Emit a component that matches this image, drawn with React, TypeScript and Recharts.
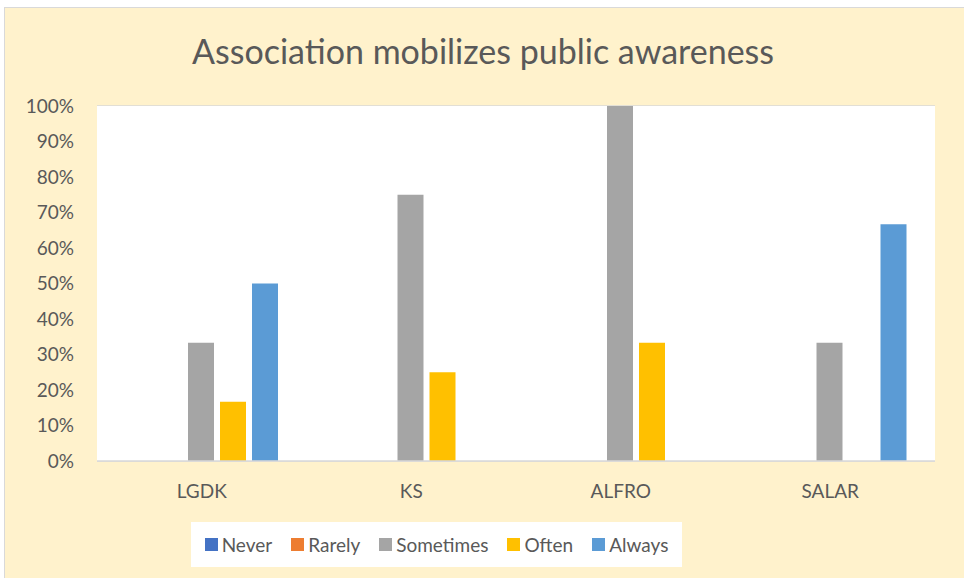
import { BarChart, Bar, XAxis, YAxis, CartesianGrid, Legend } from "recharts";

const categories = ["LGDK", "KS", "ALFRO", "SALAR"];
const never = [0, 0, 0, 0];
const rarely = [0, 0, 0, 0];
const sometimes = [33.33, 75, 100, 33.33];
const often = [16.67, 25, 33.33, 0];
const always = [50, 0, 0, 66.67];
const yTicks = [0, 10, 20, 30, 40, 50, 60, 70, 80, 90, 100];

const seriesNames = ["Never", "Rarely", "Sometimes", "Often", "Always"];
const seriesColors = ["#4472C4", "#ED7D31", "#A5A5A5", "#FFC000", "#5B9BD5"];

const data = categories.map((name, i) => ({
  name,
  Never: never[i],
  Rarely: rarely[i],
  Sometimes: sometimes[i],
  Often: often[i],
  Always: always[i],
}));

const FONT = "Lato, 'Noto Sans', sans-serif";
const TEXT = "#595959";

// keep series order (recharts sorts legend items by name otherwise)
function LegendBox() {
  return (
    <div
      style={{
        display: "flex",
        alignItems: "center",
        justifyContent: "center",
        height: "100%",
        gap: 19,
        fontFamily: FONT,
        fontSize: 19,
        color: TEXT,
      }}
    >
      {seriesNames.map((s, i) => (
        <div key={s} style={{ display: "flex", alignItems: "center", gap: 4 }}>
          <span style={{ width: 13, height: 13, background: seriesColors[i], display: "inline-block" }} />
          <span>{s}</span>
        </div>
      ))}
    </div>
  );
}

export default function App() {
  return (
    <div style={{ position: "absolute", left: 0, top: 0, width: 964, height: 578, background: "#fff", overflow: "hidden" }}>
      <div
        style={{
          position: "absolute",
          left: 4,
          top: 7,
          width: 960,
          height: 575,
          background: "#FFF2CC",
          border: "1px solid #d9d9d9",
        }}
      />
      <div
        style={{
          position: "absolute",
          left: 0,
          top: 29,
          width: 966,
          textAlign: "center",
          fontFamily: FONT,
          fontSize: 34,
          color: TEXT,
          lineHeight: "44px",
        }}
      >
        Association mobilizes public awareness
      </div>
      <div style={{ position: "absolute", left: 0, top: 0 }}>
        <BarChart
          width={964}
          height={578}
          data={data}
          margin={{ top: 106, right: 29, left: 0, bottom: 77 }}
          barCategoryGap={27}
          barGap={6}
        >
          <rect x={97} y={106} width={838} height={355} fill="#fff" />
          <CartesianGrid vertical={false} stroke="#d9d9d9" strokeWidth={1.5} fill="#ffffff" />
          <XAxis
            dataKey="name"
            tickLine={false}
            axisLine={{ stroke: "#d9d9d9", strokeWidth: 1.5 }}
            height={40}
            tickMargin={18}
            tick={{ fill: TEXT, fontSize: 19, fontFamily: FONT }}
          />
          <YAxis
            width={97}
            domain={[0, 100]}
            ticks={yTicks}
            interval={0}
            tickFormatter={(v: number) => `${v}%`}
            tickLine={false}
            axisLine={false}
            tickMargin={17}
            tick={{ fill: TEXT, fontSize: 19, fontFamily: FONT }}
          />
          <Legend
            layout="horizontal"
            verticalAlign="middle"
            align="center"
            content={<LegendBox />}
            wrapperStyle={{ left: 191, top: 522, width: 491, height: 45, background: "#fff" }}
          />
          {seriesNames.map((s, i) => (
            <Bar key={s} dataKey={s} fill={seriesColors[i]} isAnimationActive={false} />
          ))}
        </BarChart>
      </div>
    </div>
  );
}
